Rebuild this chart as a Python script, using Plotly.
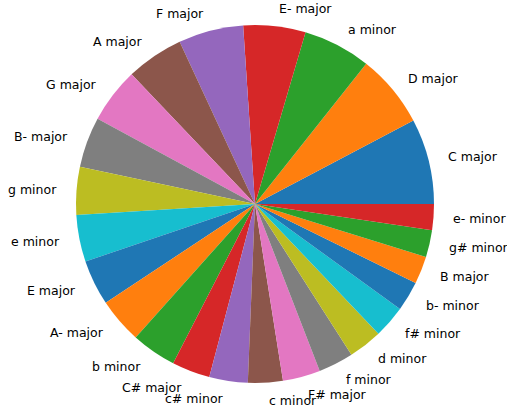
import math
import plotly.graph_objects as go

keys = ["C major", "D major", "a minor", "E- major", "F major", "A major", "G major",
        "B- major", "g minor", "e minor", "E major", "A- major", "b minor", "C# major",
        "c# minor", "c minor", "F# major", "f minor", "d minor", "f# minor", "b- minor",
        "B major", "g# minor", "e- minor"]
counts = [27.8, 23.8, 22.0, 20.2, 21.1, 18.7, 18.0, 16.4, 15.5, 15.2, 14.8, 14.7,
          14.6, 12.4, 12.5, 11.3, 12.2, 11.4, 11.0, 10.5, 9.7, 9.0, 8.8, 8.4]

tab10 = ["#1f77b4", "#ff7f0e", "#2ca02c", "#d62728", "#9467bd",
         "#8c564b", "#e377c2", "#7f7f7f", "#bcbd22", "#17becf"]
colors = [tab10[i % 10] for i in range(len(keys))]

W, H = 507, 408
cx, cy, r = 255, 204, 179
total = sum(counts)

fig = go.Figure(go.Pie(
    labels=keys, values=counts, sort=False, direction="counterclockwise",
    # plotly's counterclockwise mode starts after the first slice; offset so it begins at 3 o'clock
    rotation=90 - 360 * counts[0] / total,
    marker=dict(colors=colors, line=dict(width=0)),
    textinfo="none",
    showlegend=False, hoverinfo="label+value",
    domain=dict(x=[(cx - r) / W, (cx + r) / W], y=[(H - cy - r) / H, (H - cy + r) / H]),
))

# matplotlib-style labels at 1.1 * radius on each slice's mid angle
cum = 0.0
for k, v in zip(keys, counts):
    mid = 2 * math.pi * (cum + v / 2) / total
    cum += v
    x = cx + 1.1 * r * math.cos(mid)
    y = (H - cy) + 1.1 * r * math.sin(mid)
    fig.add_annotation(x=x / W, y=y / H, xref="paper", yref="paper", text=k,
                       showarrow=False, xanchor="left" if math.cos(mid) >= 0 else "right",
                       yanchor="middle", font=dict(family="DejaVu Sans", size=12.5, color="#000000"))

fig.update_layout(width=W, height=H, margin=dict(l=0, r=0, t=0, b=0),
                  paper_bgcolor="white", plot_bgcolor="white")
fig.write_html("out.html", config={"displayModeBar": False},
               post_script="document.body.style.margin='0';document.body.style.overflow='hidden';")
